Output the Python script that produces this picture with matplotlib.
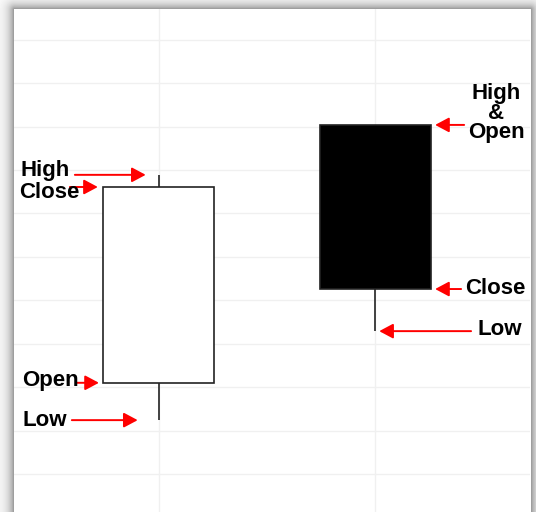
import numpy as np
import matplotlib
matplotlib.use("Agg")
import matplotlib.pyplot as plt

# two example candles: bullish (white) then bearish (black)
candle_x = [1, 2]
opens = [3.10, 9.04]
highs = [7.89, 9.04]
lows = [2.24, 4.29]
closes = [7.61, 5.26]
body_colors = ["white", "black"]

# (x tail, x tip, candle value the arrow points at)
left_arrows = [
    (0.613, 0.940, highs[0]),
    (0.590, 0.719, closes[0]),
    (0.622, 0.724, opens[0]),
    (0.599, 0.903, lows[0]),
]
right_arrows = [
    (2.410, 2.276, highs[1]),
    (2.396, 2.276, closes[1]),
    (2.442, 2.018, lows[1]),
]
# label text, x centre, baseline y (last line)
labels = [
    ("High", 0.477, 7.87),
    ("Close", 0.493, 7.36),
    ("Open", 0.500, 3.03),
    ("Low", 0.472, 2.11),
    ("High\n&\nOpen", 2.558, 8.74),
    ("Close", 2.553, 5.15),
    ("Low", 2.574, 4.20),
]

W, H = 536, 512
fig = plt.figure(figsize=(W / 100, H / 100), dpi=100)

# drop shadow around the white panel
bg = fig.add_axes([0, 0, 1, 1])
yy, xx = np.mgrid[0:H, 0:W]
dx = np.maximum(np.maximum(14 - xx, xx - 530), 0)
dy = np.maximum(9 - yy, 0)
d = np.hypot(dx, dy)
shade = 1 - 0.45 * np.exp(-d / 6.0)
shade[d == 0] = 1
bg.imshow(shade, cmap="gray", vmin=0, vmax=1, aspect="auto", interpolation="bilinear")
bg.axis("off")

ax = fig.add_axes([14 / W, 0, 516 / W, 503 / H])
ax.set_facecolor("white")
ax.set_xlim(0.332, 2.714)
ax.set_ylim(0.124, 11.71)
ax.set_xticks(candle_x)
ax.set_yticks(range(1, 12))
ax.grid(True, color="#f0f0f0", lw=1)
ax.set_axisbelow(True)
ax.tick_params(length=0, labelbottom=False, labelleft=False)
for s in ax.spines.values():
    s.set_visible(False)

# candles
ax.vlines(candle_x, lows, highs, color="#333333", lw=1.3, zorder=2)
heights = [c - o for o, c in zip(opens, closes)]
ax.bar(candle_x, heights, bottom=opens, width=0.515, color=body_colors,
       edgecolor="#222222", lw=1.2, zorder=3)

arrow_kw = dict(arrowstyle="-|>,head_length=0.6,head_width=0.32", color="red",
                lw=1.4, mutation_scale=14, shrinkA=0, shrinkB=0)
for tail, tip, y in left_arrows + right_arrows:
    ax.annotate("", xy=(tip, y), xytext=(tail, y), arrowprops=arrow_kw, zorder=5)

for txt, x, y in labels:
    ax.text(x, y, txt, ha="center", va="baseline", ma="center", fontsize=16,
            linespacing=0.9, fontweight="bold", family="Liberation Sans", zorder=6)

fig.savefig("out.png", dpi=100)
